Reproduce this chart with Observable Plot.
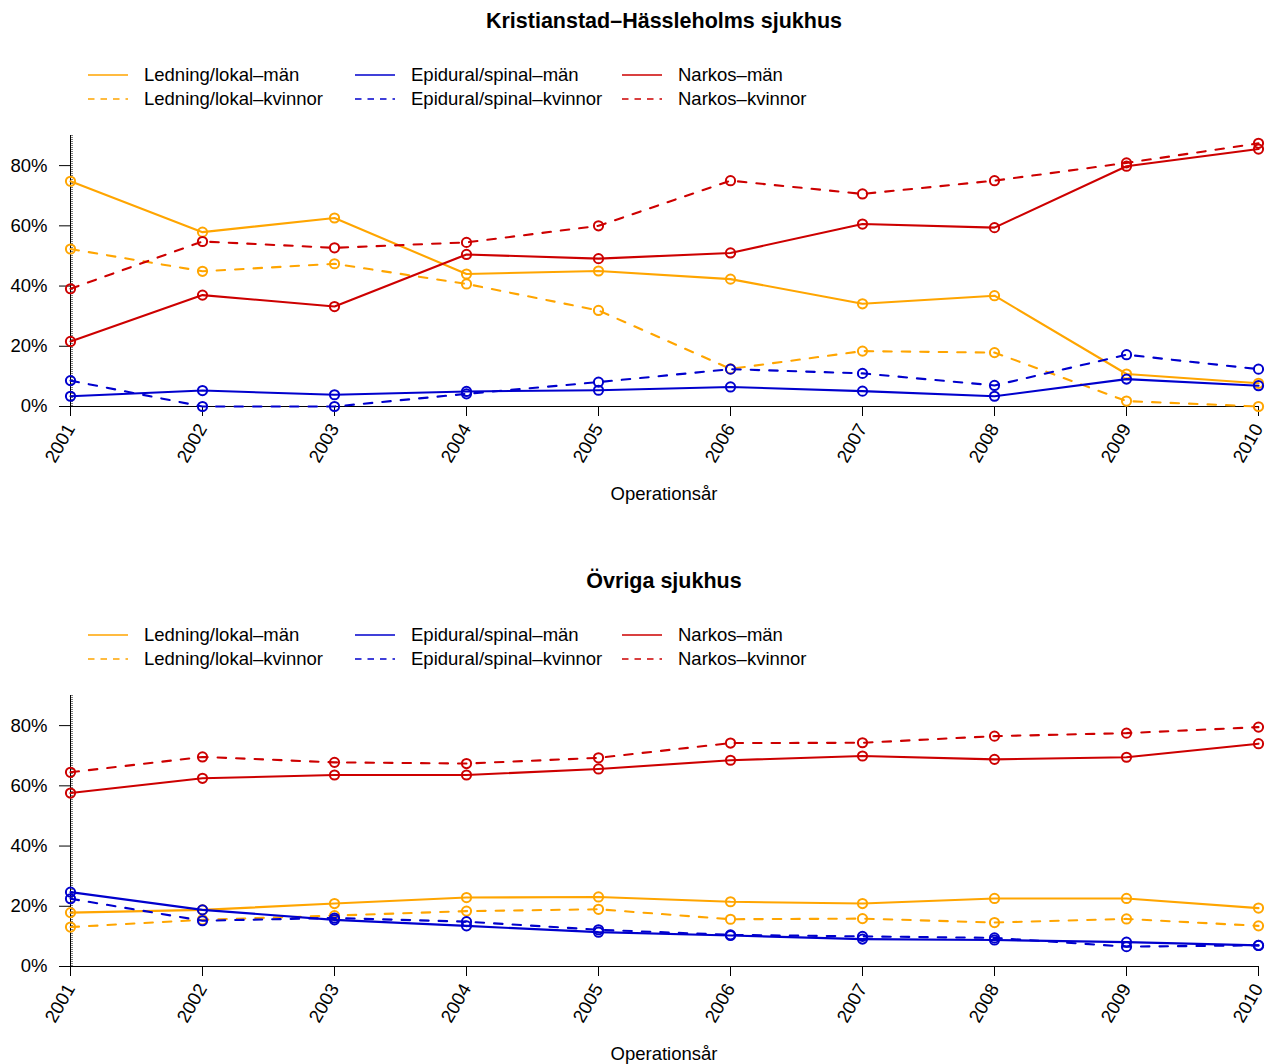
<!DOCTYPE html>
<html>
<head>
<meta charset="utf-8">
<script src="https://cdn.jsdelivr.net/npm/d3@7"></script>
<script src="https://cdn.jsdelivr.net/npm/@observablehq/plot@0.6"></script>
<style>
  html, body { margin:0; padding:0; background:#fff; }
  body { width:1266px; height:1064px; position:relative; overflow:hidden; font-family:"Liberation Sans", Arial, sans-serif; }
  .panel { position:absolute; left:0; width:1266px; height:560px; }
  .title { position:absolute; left:0; width:1328px; text-align:center; font-weight:bold; font-size:21.5px; top:9px; line-height:24px; }
  .leg { position:absolute; font-size:18.5px; line-height:22px; white-space:nowrap; }
  .legline { position:absolute; }
  .xlab { position:absolute; left:0; width:1328px; text-align:center; font-size:18.5px; line-height:22px; }
</style>
</head>
<body>
<script>
const years = [2001, 2002, 2003, 2004, 2005, 2006, 2007, 2008, 2009, 2010];
const yTicks = [0, 20, 40, 60, 80];

const seriesNames = ["Ledning/lokal\u2013män", "Ledning/lokal\u2013kvinnor",
  "Epidural/spinal\u2013män", "Epidural/spinal\u2013kvinnor",
  "Narkos\u2013män", "Narkos\u2013kvinnor"];
const seriesColors = ["#FFA500", "#FFA500", "#0000CD", "#0000CD", "#CD0000", "#CD0000"];
const seriesDashed = [false, true, false, true, false, true];

const panelTitles = ["Kristianstad\u2013Hässleholms sjukhus", "Övriga sjukhus"];
const xTitle = "Operationsår";

// Kristianstad–Hässleholms sjukhus (percent)
const kLedM = [74.8, 57.9, 62.6, 44.0, 45.0, 42.3, 34.1, 36.8, 10.8, 7.7];
const kLedK = [52.3, 44.9, 47.4, 40.7, 31.9, 12.5, 18.4, 17.9, 1.8, 0];
const kEpiM = [3.4, 5.3, 3.9, 5.0, 5.4, 6.5, 5.1, 3.4, 9.1, 6.9];
const kEpiK = [8.6, 0, 0, 4.2, 8.1, 12.4, 11.0, 7.0, 17.2, 12.4];
const kNarM = [21.6, 37.0, 33.2, 50.5, 49.1, 51.0, 60.6, 59.4, 79.8, 85.5];
const kNarK = [39.1, 54.8, 52.7, 54.5, 60.0, 75.0, 70.6, 75.0, 80.9, 87.4];

// Övriga sjukhus (percent)
const oLedM = [17.9, 18.8, 20.9, 22.9, 23.1, 21.5, 20.9, 22.6, 22.6, 19.4];
const oLedK = [13.1, 15.5, 16.9, 18.4, 19.0, 15.7, 15.9, 14.6, 15.8, 13.5];
const oEpiM = [24.7, 18.8, 15.5, 13.5, 11.4, 10.3, 9.1, 8.8, 8.1, 7.0];
const oEpiK = [22.5, 15.2, 16.1, 14.9, 12.2, 10.5, 10.0, 9.5, 6.6, 7.0];
const oNarM = [57.6, 62.5, 63.6, 63.6, 65.6, 68.5, 69.9, 68.8, 69.5, 74.0];
const oNarK = [64.5, 69.6, 67.8, 67.4, 69.3, 74.2, 74.3, 76.5, 77.5, 79.5];

const panelsData = [
  [kLedM, kLedK, kEpiM, kEpiK, kNarM, kNarK],
  [oLedM, oLedK, oEpiM, oEpiK, oNarM, oNarK]
];

function makePlot(valuesList) {
  const marks = [
    Plot.ruleX([2001], {y1: 0, y2: 90, stroke: "black", strokeWidth: 1}),
    Plot.ruleX([2001], {y1: 0, y2: 90, stroke: "black", strokeWidth: 1, dx: 1.5, strokeDasharray: "1,1"}),
    Plot.ruleY([0], {x1: 2001, x2: 2010, stroke: "black", strokeWidth: 1}),
    Plot.axisY(yTicks, {tickFormat: d => d + "%", tickSize: 11, tickPadding: 12, label: null, fontSize: 18.5}),
    Plot.axisX(years, {tickFormat: d => String(d), tickSize: 10, tickPadding: 9, tickRotate: -60, label: null, fontSize: 18.5})
  ];
  valuesList.forEach((vals, i) => {
    const data = years.map((yr, j) => ({year: yr, value: vals[j]}));
    marks.push(Plot.line(data, {
      x: "year", y: "value", stroke: seriesColors[i], strokeWidth: 2.1,
      strokeDasharray: seriesDashed[i] ? "8.5,10" : null
    }));
    marks.push(Plot.dot(data, {
      x: "year", y: "value", r: 4.6, stroke: seriesColors[i], strokeWidth: 2, fill: "none"
    }));
  });
  return Plot.plot({
    width: 1266, height: 420,
    marginLeft: 70, marginRight: 8, marginTop: 15, marginBottom: 134,
    style: {fontFamily: "'Liberation Sans', Arial, sans-serif", fontSize: "18.5px", background: "white", overflow: "visible", color: "black"},
    x: {domain: [2001, 2010]},
    y: {domain: [0, 90]},
    marks
  });
}

const legCols = [{line: 88, text: 144}, {line: 355, text: 411}, {line: 622, text: 678}];
const legRows = [75, 99];

panelTitles.forEach((title, p) => {
  const panel = document.createElement("div");
  panel.className = "panel";
  panel.style.top = (p * 560) + "px";
  document.body.appendChild(panel);

  const t = document.createElement("div");
  t.className = "title";
  t.textContent = title;
  panel.appendChild(t);

  seriesNames.forEach((name, i) => {
    const col = legCols[Math.floor(i / 2)];
    const rowY = legRows[i % 2];
    const svgNS = "http://www.w3.org/2000/svg";
    const s = document.createElementNS(svgNS, "svg");
    s.setAttribute("width", 42); s.setAttribute("height", 6);
    s.setAttribute("class", "legline");
    s.style.left = col.line + "px"; s.style.top = (rowY - 3) + "px";
    const ln = document.createElementNS(svgNS, "line");
    ln.setAttribute("x1", 0); ln.setAttribute("x2", 40);
    ln.setAttribute("y1", 3); ln.setAttribute("y2", 3);
    ln.setAttribute("stroke", seriesColors[i]);
    ln.setAttribute("stroke-width", 1.3);
    if (seriesDashed[i]) ln.setAttribute("stroke-dasharray", "6.5,6");
    s.appendChild(ln);
    panel.appendChild(s);

    const lt = document.createElement("div");
    lt.className = "leg";
    lt.style.left = col.text + "px";
    lt.style.top = (rowY - 11) + "px";
    lt.textContent = name;
    panel.appendChild(lt);
  });

  const chart = makePlot(panelsData[p]);
  chart.style.position = "absolute";
  chart.style.left = "0px";
  chart.style.top = "120px";
  panel.appendChild(chart);

  const xl = document.createElement("div");
  xl.className = "xlab";
  xl.style.top = (494 - 11) + "px";
  xl.textContent = xTitle;
  panel.appendChild(xl);
});
</script>
</body>
</html>
